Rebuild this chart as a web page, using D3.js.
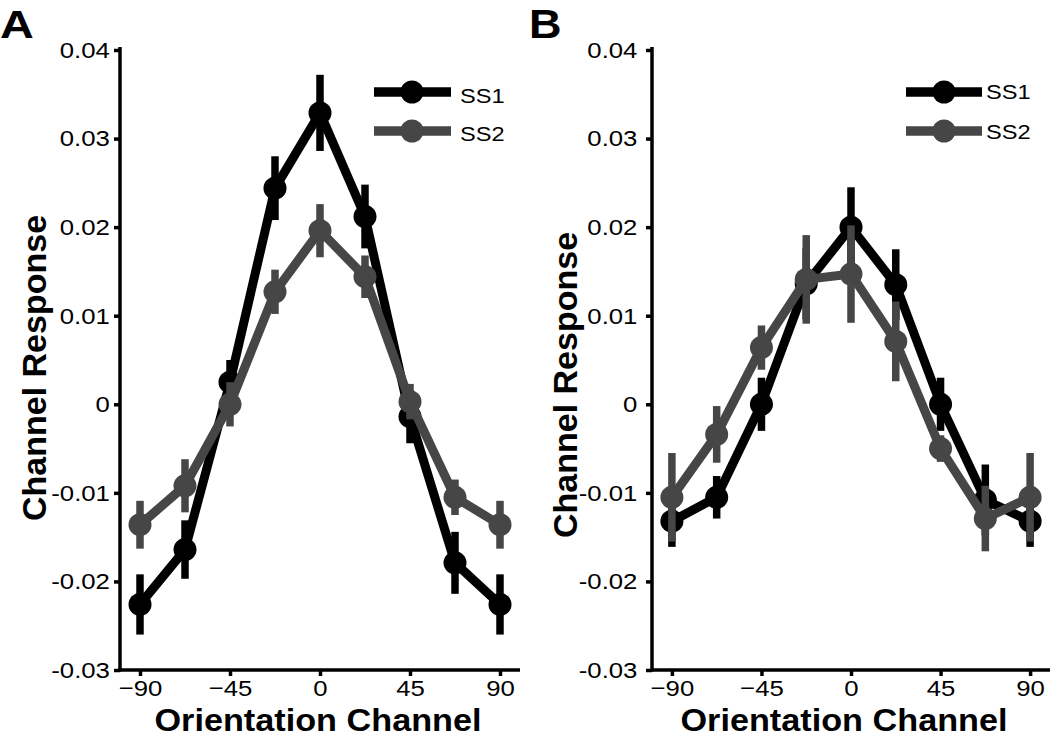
<!DOCTYPE html>
<html>
<head>
<meta charset="utf-8">
<script src="https://cdn.jsdelivr.net/npm/d3@7"></script>
<style>
  html, body { margin: 0; padding: 0; background: #fff; }
  svg { display: block; font-family: "Liberation Sans", Arial, Helvetica, sans-serif; }
</style>
</head>
<body>
<svg id="chart" width="1050" height="738"></svg>
<script>
// ---- data ----
const channels = [-90, -67.5, -45, -22.5, 0, 22.5, 45, 67.5, 90];
const xTicks = [-90, -45, 0, 45, 90];
const yTicks = [-0.03, -0.02, -0.01, 0, 0.01, 0.02, 0.03, 0.04];
const yTickLabels = ["-0.03", "-0.02", "-0.01", "0", "0.01", "0.02", "0.03", "0.04"];
const seriesNames = ["SS1", "SS2"];

const A_SS1 = [-0.0226, -0.0164, 0.0025, 0.0244, 0.0329, 0.0212, -0.0014, -0.0179, -0.0226];
const A_SS1_err = [0.0034, 0.0033, 0.0025, 0.0036, 0.0043, 0.0036, 0.0030, 0.0035, 0.0034];
const A_SS2 = [-0.0136, -0.0092, 0.0000, 0.0127, 0.0196, 0.0144, 0.0003, -0.0105, -0.0136];
const A_SS2_err = [0.0027, 0.0030, 0.0025, 0.0025, 0.0030, 0.0024, 0.0020, 0.0020, 0.0027];

const B_SS1 = [-0.0132, -0.0105, 0.0000, 0.0136, 0.0200, 0.0135, 0.0000, -0.0108, -0.0132];
const B_SS1_err = [0.0029, 0.0024, 0.0030, 0.0040, 0.0045, 0.0040, 0.0030, 0.0040, 0.0029];
const B_SS2 = [-0.0105, -0.0034, 0.0064, 0.0141, 0.0147, 0.0071, -0.0050, -0.0129, -0.0105];
const B_SS2_err = [0.0050, 0.0032, 0.0025, 0.0050, 0.0055, 0.0045, 0.0015, 0.0037, 0.0050];

const colors = ["#000000", "#464646"];

const svg = d3.select("#chart");

function panel(cfg) {
  const g = svg.append("g");
  const x = d3.scaleLinear().domain([-100, 100]).range([cfg.left, cfg.right]);
  const y = d3.scaleLinear().domain([-0.03, 0.04]).range([670, 50]);

  // axes
  const yAxis = d3.axisLeft(y).tickValues(yTicks)
    .tickFormat((d, i) => yTickLabels[i]).tickSize(6).tickSizeOuter(0).tickPadding(cfg.yPad);
  const gy = g.append("g").attr("transform", `translate(${cfg.left},0)`).call(yAxis);
  const xAxis = d3.axisBottom(x).tickValues(xTicks).tickFormat(d3.format("d"))
    .tickSize(6).tickSizeOuter(0).tickPadding(4);
  const gx = g.append("g").attr("transform", `translate(0,670)`).call(xAxis);
  [gx, gy].forEach(a => {
    a.select(".domain").remove();
    a.selectAll(".tick line").attr("stroke", "#000").attr("stroke-width", 3.5);
    a.selectAll(".tick text").attr("fill", "#000")
      .style("font-size", "23px")
      .style("font-family", '"Liberation Sans", Arial, sans-serif')
      .attr("transform", "scale(1.12,1)");
  });
  // axis lines
  g.append("line").attr("x1", cfg.left).attr("x2", cfg.left)
    .attr("y1", 47).attr("y2", 671.5).attr("stroke", "#000").attr("stroke-width", 3.5);
  g.append("line").attr("x1", cfg.left - 1.75).attr("x2", cfg.right)
    .attr("y1", 670).attr("y2", 670).attr("stroke", "#000").attr("stroke-width", 3.5);

  // axis titles
  g.append("text").attr("transform", `translate(${cfg.xTitleX},731) scale(1.07,1)`)
    .attr("text-anchor", "middle").style("font-weight", "bold").style("font-size", "32px")
    .text("Orientation Channel");
  g.append("text")
    .attr("transform", `translate(${cfg.yTitleX},${cfg.yTitleY}) rotate(-90)`)
    .attr("text-anchor", "middle").style("font-weight", "bold").style("font-size", "34px")
    .text("Channel Response");

  // panel letter
  g.append("text").attr("transform", `translate(${cfg.letterX},38) scale(${cfg.letterSx},1)`)
    .style("font-weight", "bold").style("font-size", cfg.letterSize + "px")
    .text(cfg.letter);

  // series
  const line = d3.line().x((d, i) => x(channels[i])).y(d => y(d));
  cfg.series.forEach((s, si) => {
    const c = colors[si];
    const sg = g.append("g");
    sg.append("path").datum(s.vals).attr("d", line)
      .attr("fill", "none").attr("stroke", c).attr("stroke-width", 9)
      .attr("stroke-linejoin", "round");
    sg.selectAll("circle").data(s.vals).join("circle")
      .attr("cx", (d, i) => x(channels[i])).attr("cy", d => y(d)).attr("r", 11.5)
      .attr("fill", c);
    sg.selectAll("line.err").data(s.vals).join("line").attr("class", "err")
      .attr("x1", (d, i) => x(channels[i])).attr("x2", (d, i) => x(channels[i]))
      .attr("y1", (d, i) => y(d + s.err[i])).attr("y2", (d, i) => y(d - s.err[i]))
      .attr("stroke", c).attr("stroke-width", 7.5);
  });

  // legend
  const L = cfg.legend;
  seriesNames.forEach((name, si) => {
    const ly = L.y[si];
    g.append("line").attr("x1", L.x1).attr("x2", L.x2).attr("y1", ly).attr("y2", ly)
      .attr("stroke", colors[si]).attr("stroke-width", 9.5);
    g.append("circle").attr("cx", L.cx).attr("cy", ly).attr("r", 11.5).attr("fill", colors[si]);
    g.append("text").attr("transform", `translate(${L.tx},${L.ty[si]}) scale(1.18,1)`)
      .style("font-size", "20px").text(name);
  });
}

panel({
  left: 120, right: 520, yPad: 3,
  xTitleX: 318, yTitleX: 46, yTitleY: 368,
  letter: "A", letterX: 0, letterSize: 39, letterSx: 1.2,
  series: [{ vals: A_SS1, err: A_SS1_err }, { vals: A_SS2, err: A_SS2_err }],
  legend: { x1: 374, x2: 451, cx: 412, y: [92, 131], tx: 460, ty: [103, 141] }
});

panel({
  left: 652, right: 1050, yPad: 7,
  xTitleX: 844, yTitleX: 577, yTitleY: 385,
  letter: "B", letterX: 529, letterSize: 41, letterSx: 1.1,
  series: [{ vals: B_SS1, err: B_SS1_err }, { vals: B_SS2, err: B_SS2_err }],
  legend: { x1: 906, x2: 982, cx: 944, y: [92, 131], tx: 986, ty: [99, 139] }
});
</script>
</body>
</html>
